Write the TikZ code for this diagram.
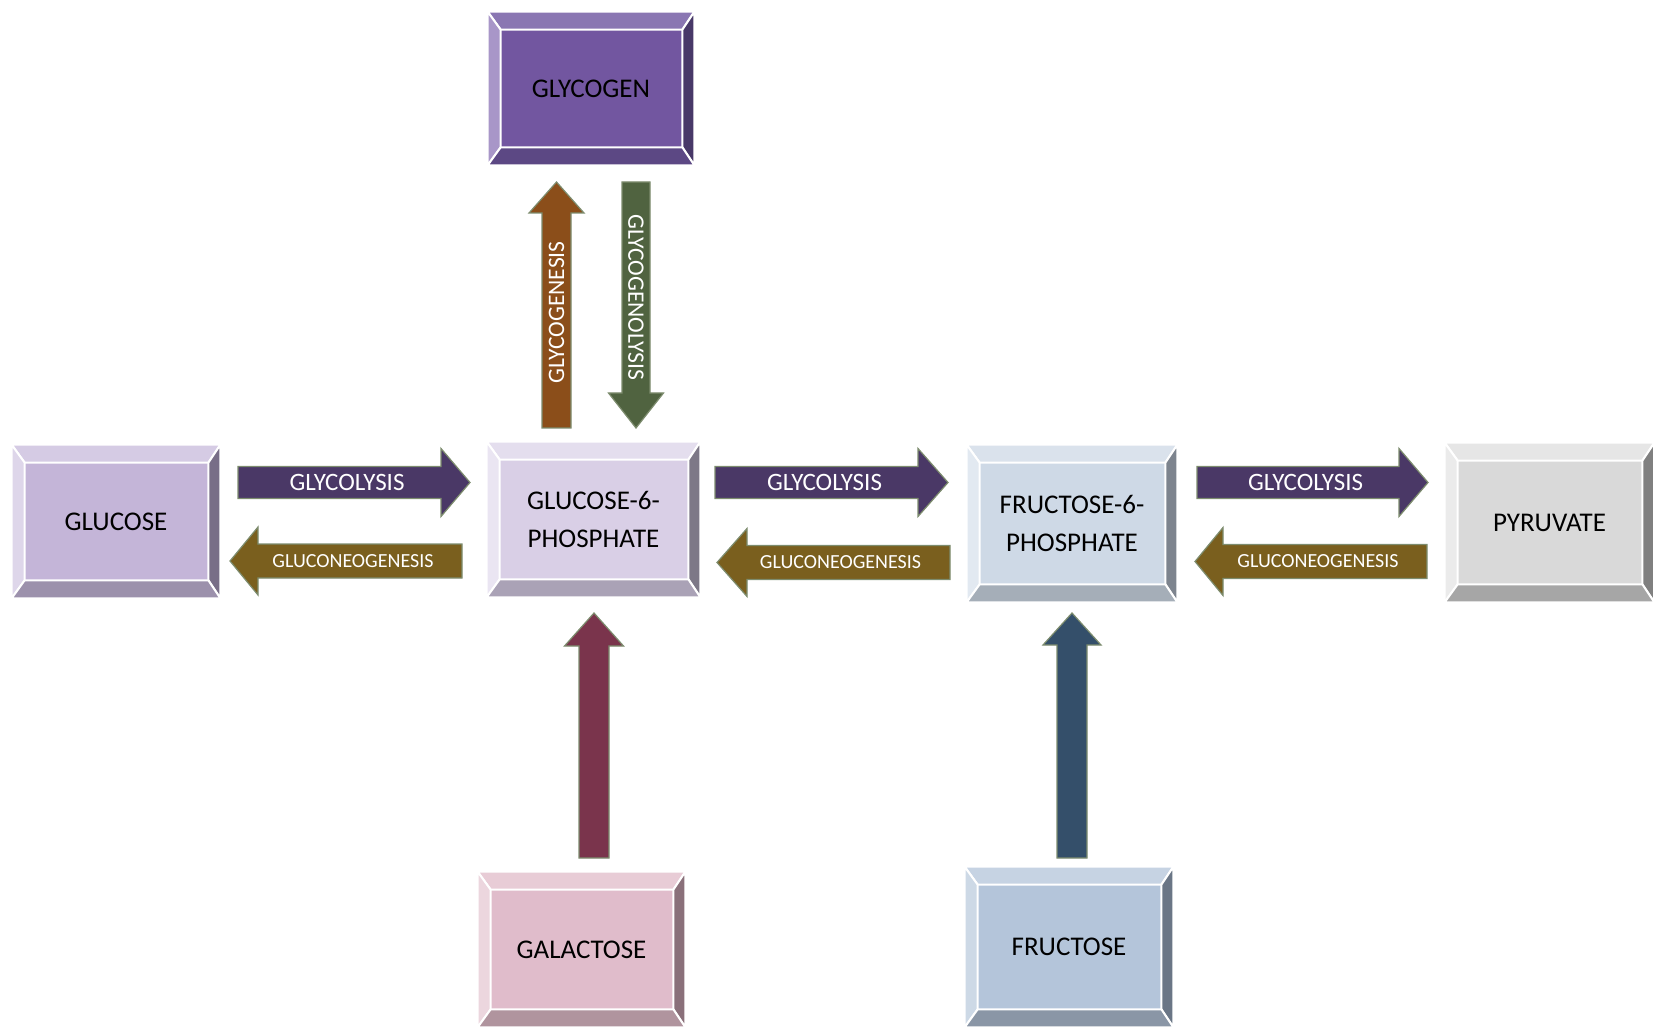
\documentclass[tikz,border=0pt]{standalone}
\usepackage{fontspec}
\setmainfont{Carlito}
\usetikzlibrary{calc}

% box colours: F face, T top, L left, R right, B bottom
\definecolor{gyF}{RGB}{114,86,160}\definecolor{gyT}{RGB}{138,118,178}\definecolor{gyL}{RGB}{168,150,200}\definecolor{gyR}{RGB}{72,56,104}\definecolor{gyB}{RGB}{92,72,132}
\definecolor{guF}{RGB}{196,181,216}\definecolor{guT}{RGB}{213,203,228}\definecolor{guL}{RGB}{222,214,234}\definecolor{guR}{RGB}{120,110,135}\definecolor{guB}{RGB}{156,145,172}
\definecolor{g6F}{RGB}{217,207,230}\definecolor{g6T}{RGB}{228,222,238}\definecolor{g6L}{RGB}{234,229,242}\definecolor{g6R}{RGB}{125,120,135}\definecolor{g6B}{RGB}{170,162,182}
\definecolor{f6F}{RGB}{206,217,230}\definecolor{f6T}{RGB}{218,226,236}\definecolor{f6L}{RGB}{226,233,241}\definecolor{f6R}{RGB}{125,132,142}\definecolor{f6B}{RGB}{165,174,184}
\definecolor{pyF}{RGB}{217,217,217}\definecolor{pyT}{RGB}{230,230,230}\definecolor{pyL}{RGB}{235,235,235}\definecolor{pyR}{RGB}{128,128,128}\definecolor{pyB}{RGB}{166,166,166}
\definecolor{gaF}{RGB}{224,188,203}\definecolor{gaT}{RGB}{232,204,214}\definecolor{gaL}{RGB}{236,214,222}\definecolor{gaR}{RGB}{138,112,122}\definecolor{gaB}{RGB}{176,148,158}
\definecolor{frF}{RGB}{180,197,218}\definecolor{frT}{RGB}{198,211,227}\definecolor{frL}{RGB}{205,217,230}\definecolor{frR}{RGB}{106,118,134}\definecolor{frB}{RGB}{138,150,166}

% arrow colours
\definecolor{cGlycolysis}{RGB}{74,56,102}
\definecolor{cGluconeo}{RGB}{122,95,30}
\definecolor{cGlycogenesis}{RGB}{139,78,26}
\definecolor{cGlycogenolysis}{RGB}{80,99,64}
\definecolor{cGalactose}{RGB}{122,52,76}
\definecolor{cFructose}{RGB}{52,79,106}
\definecolor{cOutline}{RGB}{125,140,110}

\tikzset{
  boxnode/.style={rectangle, inner sep=0pt, font=\fontsize{13.5}{19}\selectfont, text=black, align=center},
  bevel/.style={draw=white, line width=1pt, line join=miter},
  blk/.style={draw=cOutline, line width=0.6pt, line join=miter},
  lblbig/.style={text=white, inner sep=0pt, font=\fontsize{12.5}{14}\selectfont},
  lblsmall/.style={text=white, inner sep=0pt, font=\fontsize{10}{12}\selectfont},
  lblvert/.style={text=white, inner sep=0pt, font=\fontsize{11.8}{14}\selectfont},
}

% bevelled box: name, x1, y1, x2, y2 (pixels), colour prefix, text
\newcommand\bevbox[7]{%
  \node[boxnode, fill=#6F, minimum width={(#4-#2)*0.5pt}, minimum height={(#5-#3)*0.5pt}] (#1) at ({(#2+#4)/2},{(#3+#5)/2}) {#7};
  \coordinate (#1-inw) at ($(#1.north west)+(13,18)$);
  \coordinate (#1-ine) at ($(#1.north east)+(-12,18)$);
  \coordinate (#1-isw) at ($(#1.south west)+(13,-18)$);
  \coordinate (#1-ise) at ($(#1.south east)+(-12,-18)$);
  \path[bevel, fill=#6T] (#1.north west) -- (#1.north east) -- (#1-ine) -- (#1-inw) -- cycle;
  \path[bevel, fill=#6L] (#1.north west) -- (#1-inw) -- (#1-isw) -- (#1.south west) -- cycle;
  \path[bevel, fill=#6R] (#1.north east) -- (#1.south east) -- (#1-ise) -- (#1-ine) -- cycle;
  \path[bevel, fill=#6B] (#1.south west) -- (#1-isw) -- (#1-ise) -- (#1.south east) -- cycle;
}

% block arrow: fill colour, from, to, body half width, head half width, head length
\newcommand\blockarrow[6]{%
  \coordinate (#3-hb) at ($(#3)!#6!(#2)$);
  \path[blk, fill=#1] ($(#2)!#4!90:(#3)$) -- ($(#3-hb)!#4!90:(#3)$) -- ($(#3-hb)!#5!90:(#3)$) -- (#3)
     -- ($(#3-hb)!#5!-90:(#3)$) -- ($(#3-hb)!#4!-90:(#3)$) -- ($(#2)!#4!-90:(#3)$) -- cycle;
}

\begin{document}
\begin{tikzpicture}[x=0.5pt,y=-0.5pt]
\useasboundingbox (0,0) rectangle (1653,1031);

% boxes
\bevbox{glycogen}{488}{12}{694}{165}{gy}{GLYCOGEN}
\bevbox{glucose}{12}{445}{220}{598}{gu}{GLUCOSE}
\bevbox{g6p}{487}{442}{700}{597}{g6}{GLUCOSE-6-\\PHOSPHATE}
\bevbox{f6p}{967}{445}{1177}{602}{f6}{FRUCTOSE-6-\\PHOSPHATE}
\bevbox{pyruvate}{1445}{443}{1654}{602}{py}{PYRUVATE}
\bevbox{galactose}{478}{872}{685}{1027}{ga}{GALACTOSE}
\bevbox{fructose}{965}{867}{1173}{1027}{fr}{FRUCTOSE}

% arrow end coordinates
\coordinate (a1s) at (238,482.5);  \coordinate (a1e) at (470,482.5);
\coordinate (b1s) at (462,561);    \coordinate (b1e) at (230,561);
\coordinate (a2s) at (715,482.5);  \coordinate (a2e) at (948,482.5);
\coordinate (b2s) at (950,562.5);  \coordinate (b2e) at (717,562.5);
\coordinate (a3s) at (1197,482.5); \coordinate (a3e) at (1428,482.5);
\coordinate (b3s) at (1427,561.5); \coordinate (b3e) at (1195,561.5);
\coordinate (ups) at (556.5,428);  \coordinate (upe) at (556.5,182);
\coordinate (dns) at (636,182);    \coordinate (dne) at (636,428);
\coordinate (gas) at (594,858);    \coordinate (gae) at (594,613);
\coordinate (frs) at (1072,858);   \coordinate (fre) at (1072,613);

% horizontal arrows
\blockarrow{cGlycolysis}{a1s}{a1e}{8pt}{17pt}{14.5pt}
\blockarrow{cGluconeo}{b1s}{b1e}{8.5pt}{17pt}{14pt}
\blockarrow{cGlycolysis}{a2s}{a2e}{8pt}{17pt}{15pt}
\blockarrow{cGluconeo}{b2s}{b2e}{8.5pt}{17pt}{15pt}
\blockarrow{cGlycolysis}{a3s}{a3e}{8pt}{17pt}{14.5pt}
\blockarrow{cGluconeo}{b3s}{b3e}{8.5pt}{17pt}{14pt}
% vertical arrows
\blockarrow{cGlycogenesis}{ups}{upe}{7.25pt}{13.75pt}{15.5pt}
\blockarrow{cGlycogenolysis}{dns}{dne}{7pt}{13.75pt}{17.5pt}
\blockarrow{cGalactose}{gas}{gae}{7.5pt}{14.75pt}{16.5pt}
\blockarrow{cFructose}{frs}{fre}{7.5pt}{14.5pt}{16pt}

% labels
\node[lblbig] (l1) at ($(a1s)!0.47!(a1e)$) {GLYCOLYSIS};
\node[lblsmall] (l2) at ($(b1s)!0.47!(b1e)$) {GLUCONEOGENESIS};
\node[lblbig] (l3) at ($(a2s)!0.47!(a2e)$) {GLYCOLYSIS};
\node[lblsmall] (l4) at ($(b2s)!0.47!(b2e)$) {GLUCONEOGENESIS};
\node[lblbig] (l5) at ($(a3s)!0.47!(a3e)$) {GLYCOLYSIS};
\node[lblsmall] (l6) at ($(b3s)!0.47!(b3e)$) {GLUCONEOGENESIS};
\node[lblvert, rotate=90] (l7) at ($(ups)!0.47!(upe)$) {GLYCOGENESIS};
\node[lblvert, rotate=-90] (l8) at ($(dns)!0.47!(dne)$) {GLYCOGENOLYSIS};
\end{tikzpicture}
\end{document}
